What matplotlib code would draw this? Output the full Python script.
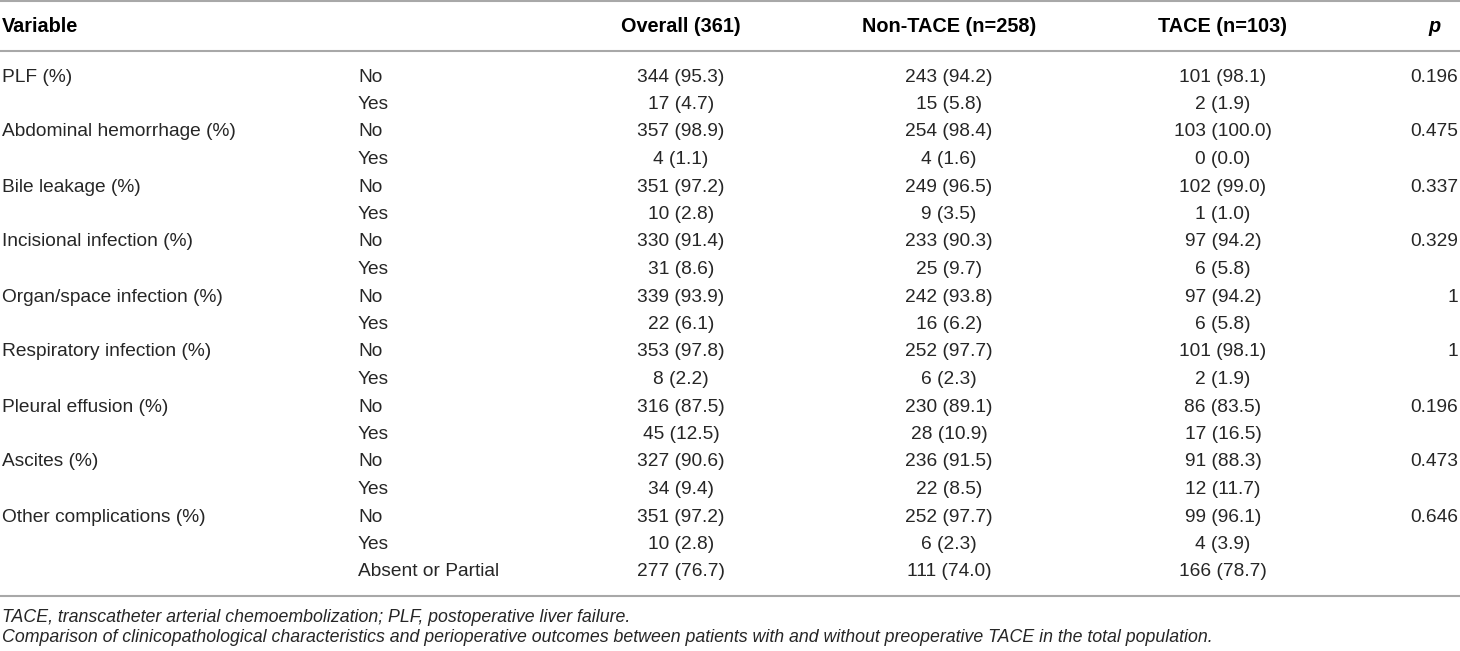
import matplotlib
matplotlib.use("Agg")
import matplotlib.pyplot as plt

# ---------- data ----------
variables = [
    "PLF (%)",
    "Abdominal hemorrhage (%)",
    "Bile leakage (%)",
    "Incisional infection (%)",
    "Organ/space infection (%)",
    "Respiratory infection (%)",
    "Pleural effusion (%)",
    "Ascites (%)",
    "Other complications (%)",
]
levels = ["No", "Yes"] * 9 + ["Absent or Partial"]

overall_n = [344, 17, 357, 4, 351, 10, 330, 31, 339, 22, 353, 8, 316, 45, 327, 34, 351, 10, 277]
overall_pct = [95.3, 4.7, 98.9, 1.1, 97.2, 2.8, 91.4, 8.6, 93.9, 6.1, 97.8, 2.2, 87.5, 12.5,
               90.6, 9.4, 97.2, 2.8, 76.7]
nontace_n = [243, 15, 254, 4, 249, 9, 233, 25, 242, 16, 252, 6, 230, 28, 236, 22, 252, 6, 111]
nontace_pct = [94.2, 5.8, 98.4, 1.6, 96.5, 3.5, 90.3, 9.7, 93.8, 6.2, 97.7, 2.3, 89.1, 10.9,
               91.5, 8.5, 97.7, 2.3, 74.0]
tace_n = [101, 2, 103, 0, 102, 1, 97, 6, 97, 6, 101, 2, 86, 17, 91, 12, 99, 4, 166]
tace_pct = [98.1, 1.9, 100.0, 0.0, 99.0, 1.0, 94.2, 5.8, 94.2, 5.8, 98.1, 1.9, 83.5, 16.5,
            88.3, 11.7, 96.1, 3.9, 78.7]
p_values = ["0.196", "0.475", "0.337", "0.329", "1", "1", "0.196", "0.473", "0.646"]

headers = ["Variable", "Overall (361)", "Non-TACE (n=258)", "TACE (n=103)"]
footnotes = [
    "TACE, transcatheter arterial chemoembolization; PLF, postoperative liver failure.",
    "Comparison of clinicopathological characteristics and perioperative outcomes between "
    "patients with and without preoperative TACE in the total population.",
]

# ---------- layout (pixels) ----------
W, H = 1460, 651
x_var, x_lvl = 2, 358
x_cols = [681, 949, 1223]
x_p_head, x_p = 1435, 1458
y_head = 27
y_first, row_h = 77, 27.5
line_col = "#a8a8a8"
txt_col = "#262626"

plt.rcParams["font.family"] = ["Liberation Sans", "DejaVu Sans"]

fig = plt.figure(figsize=(W / 100, H / 100), dpi=100)
ax = fig.add_axes([0, 0, 1, 1])
ax.set_xlim(0, W)
ax.set_ylim(H, 0)
ax.axis("off")

body = dict(fontsize=13.75, color=txt_col, va="center")
head = dict(fontsize=14.3, color="black", va="center", fontweight="bold")
note_kw = dict(fontsize=12.8, color=txt_col, va="center", fontstyle="italic")

# rules
y_last = y_first + row_h * (len(levels) - 1)
for y in (1.2, 51, y_last + 24):
    ax.axhline(y, color=line_col, lw=1.5)

# header
ax.text(x_var, y_head, headers[0], ha="left", **head)
for x, h in zip(x_cols, headers[1:]):
    ax.text(x, y_head, h, ha="center", **head)
ax.text(x_p_head, y_head, "p", ha="center", fontstyle="italic", **head)

# body
for i, lvl in enumerate(levels):
    y = y_first + row_h * i
    if i % 2 == 0 and i // 2 < len(variables):
        ax.text(x_var, y, variables[i // 2], ha="left", **body)
        ax.text(x_p, y, p_values[i // 2], ha="right", **body)
    ax.text(x_lvl, y, lvl, ha="left", **body)
    cols = [(overall_n, overall_pct), (nontace_n, nontace_pct), (tace_n, tace_pct)]
    for x, (n, pct) in zip(x_cols, cols):
        ax.text(x, y, f"{n[i]} ({pct[i]:.1f})", ha="center", **body)

# footnotes
for k, note in enumerate(footnotes):
    ax.text(x_var, y_last + 45 + 21 * k, note, ha="left", **note_kw)

fig.savefig("out.png", dpi=100)
